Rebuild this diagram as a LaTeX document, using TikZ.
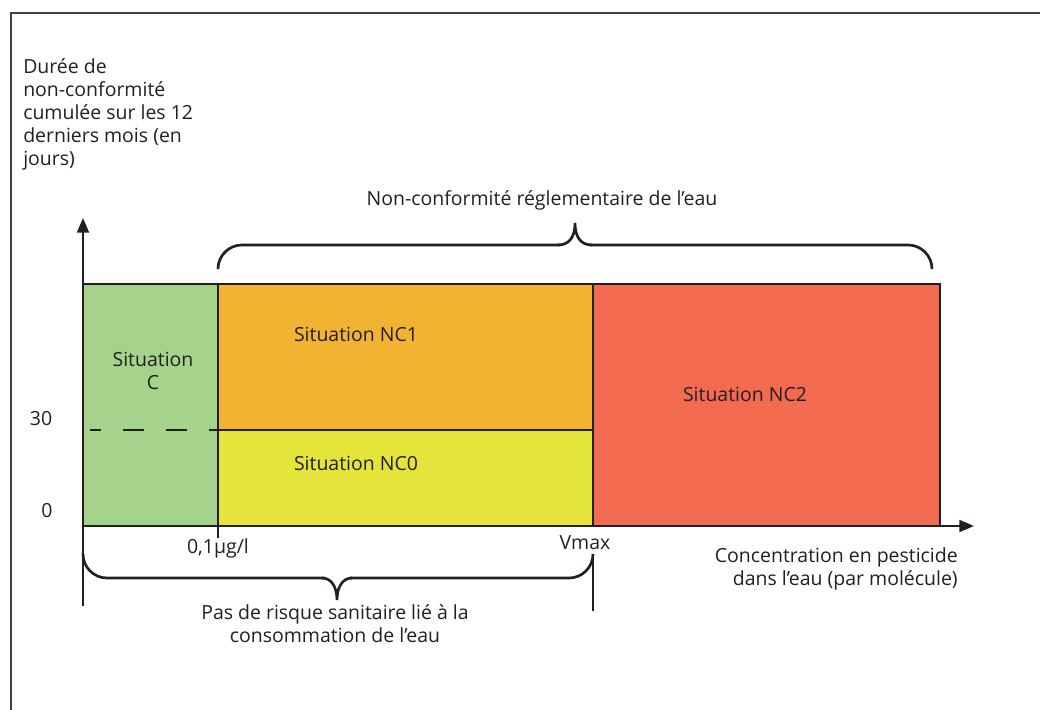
\documentclass[tikz,border=0pt]{standalone}
\usepackage{fontspec}
\setmainfont{Open Sans}
\usetikzlibrary{arrows.meta}
\definecolor{ink}{HTML}{231F20}
\definecolor{cgreen}{HTML}{A6D38C}
\definecolor{corange}{HTML}{F2B232}
\definecolor{cyellow}{HTML}{E4E43A}
\definecolor{cred}{HTML}{F26A4F}
\begin{document}
\begin{tikzpicture}[x=0.75pt,y=-0.75pt,
  lbl/.style={text=ink,font=\fontsize{14.6}{17.3}\selectfont,inner sep=0pt},
  zone/.style={draw=ink,line width=1.4pt},
  ln/.style={draw=ink,line width=1.4pt},
  brace/.style={draw=ink,line width=2pt,line cap=round}]
\useasboundingbox (0,0) rectangle (1040,710);
% frame
\draw[line width=1.2pt,black!75] (11,712) -- (11,13) -- (1042,13);
% zones
\path[zone,fill=cgreen] (83,284) rectangle (218,526);
\path[zone,fill=corange] (218,284) rectangle (593,430);
\path[zone,fill=cyellow] (218,430) rectangle (593,526);
\path[zone,fill=cred] (593,284) rectangle (940,526);
% dashed threshold
\coordinate (da) at (90,430);
\coordinate (db) at (218,430);
\draw[ln,dash pattern=on 15.75pt off 16.5pt,dash phase=7.5pt] (da) -- (db);
% axes
\coordinate (o) at (83,526);
\coordinate (ybot) at (83,606);
\coordinate (ytop) at (83,218);
\coordinate (xend) at (974,526);
\draw[ln,-{Triangle[length=11pt,width=9pt]}] (ybot) -- (ytop);
\draw[ln,-{Triangle[length=11pt,width=9pt]}] (o) -- (xend);
% ticks
\coordinate (t1a) at (218,526);
\coordinate (t1b) at (218,538);
\draw[ln] (t1a) -- (t1b);
\coordinate (vma) at (593,555);
\coordinate (vmb) at (593,611);
\draw[ln] (vma) -- (vmb);
% upper brace
\draw[brace,rounded corners=18pt] (218,268) |- (560,245);
\draw[brace] (558,245) .. controls (570,245) and (575,236) .. (575,223)
  .. controls (575,236) and (580,245) .. (592,245);
\draw[brace,rounded corners=18pt] (590,245) -| (932,268);
% lower brace
\draw[brace,rounded corners=18pt] (83,555) |- (324,578);
\draw[brace] (322,578) .. controls (332,578) and (337,588) .. (337,600)
  .. controls (337,588) and (342,578) .. (352,578);
\draw[brace,rounded corners=18pt] (350,578) -| (593,555);
% labels
\node[lbl,anchor=north west,align=left] (ylab) at (23,58) {Durée de\\non-conformité\\cumulée sur les 12\\derniers mois (en\\jours)};
\node[lbl,align=center] (lc) at (153,371) {Situation\\C};
\node[lbl] (lnc1) at (356,334) {Situation NC1};
\node[lbl] (lnc0) at (356,463) {Situation NC0};
\node[lbl] (lnc2) at (745,394) {Situation NC2};
\node[lbl] (l30) at (41,419) {30};
\node[lbl] (l0) at (47,511) {0};
\node[lbl] (lt1) at (218,548) {0,1µg/l};
\node[lbl] (lvm) at (585,543) {Vmax};
\node[lbl,align=right,anchor=east] (lx) at (958,569) {Concentration en pesticide\\dans l’eau (par molécule)};
\node[lbl] (lup) at (542,200) {Non-conformité réglementaire de l’eau};
\node[lbl,align=center] (ldn) at (335,624) {Pas de risque sanitaire lié à la\\consommation de l’eau};
\end{tikzpicture}
\end{document}
